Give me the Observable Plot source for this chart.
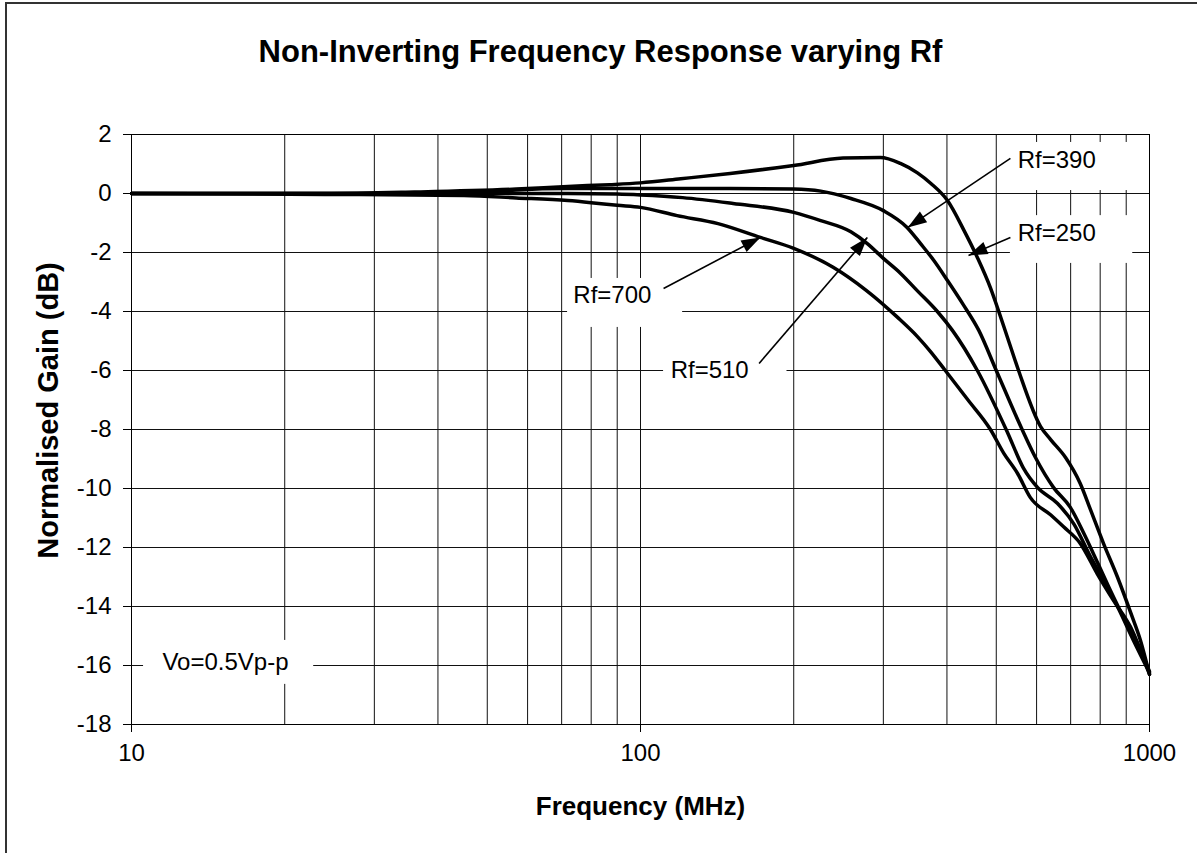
<!DOCTYPE html>
<html><head><meta charset="utf-8">
<script src="https://cdn.jsdelivr.net/npm/d3@7"></script>
<script src="https://cdn.jsdelivr.net/npm/@observablehq/plot@0.6"></script>
<style>
html,body{margin:0;padding:0;background:#fff;overflow:hidden;}
#wrap{position:relative;width:1197px;height:853px;}
#border{position:absolute;left:5px;top:2px;width:1400px;height:1000px;border-left:2px solid #333;border-top:2px solid #333;pointer-events:none;}
</style></head><body><div id="wrap"><div id="chart"></div><div id="border"></div></div>
<script>
// ---- Data ----
const freq250 = [10, 24, 36, 57, 72, 87, 100, 120, 150, 200, 250, 296, 324, 350, 372, 401, 432, 459, 487, 505, 526, 553, 611, 640, 684, 731, 765, 812, 865, 918, 960, 1000];
const gain250 = [0, 0, 0.05, 0.15, 0.24, 0.3, 0.36, 0.5, 0.68, 0.95, 1.2, 1.22, 1.02, 0.7, 0.34, -0.24, -1.25, -2.17, -3.2, -3.97, -4.88, -6.0, -7.9, -8.35, -8.95, -9.83, -10.7, -11.86, -13.0, -14.2, -15.15, -16.3];

const freq390 = [10, 36, 50, 57, 72, 100, 150, 200, 226, 259, 300, 334, 355, 377, 401, 430, 462, 500, 562, 597, 648, 699, 742, 790, 838, 889, 946, 1000];
const gain390 = [0, 0, 0.05, 0.12, 0.17, 0.17, 0.17, 0.15, 0.08, -0.17, -0.58, -1.15, -1.7, -2.27, -2.95, -3.75, -4.64, -6.0, -8.0, -8.95, -9.97, -10.64, -11.5, -12.5, -13.46, -14.37, -15.25, -16.2];

const freq510 = [10, 45, 72, 90, 100, 121, 152, 200, 226, 259, 279, 300, 324, 350, 383, 410, 459, 526, 565, 603, 659, 710, 765, 812, 865, 930, 1000];
const gain510 = [0, 0, 0, -0.02, -0.05, -0.14, -0.34, -0.64, -0.92, -1.3, -1.7, -2.2, -2.7, -3.3, -4.0, -4.64, -6.0, -8.1, -9.3, -9.97, -10.5, -11.2, -12.3, -13.1, -14.0, -15.15, -16.25];

const freq700 = [10, 24, 45, 57, 72, 80, 90, 100, 118, 142, 172, 200, 239, 278, 320, 350, 371, 397, 440, 487, 517, 551, 583, 640, 678, 731, 790, 850, 918, 1000];
const gain700 = [0, -0.03, -0.07, -0.15, -0.24, -0.31, -0.4, -0.47, -0.75, -1.02, -1.49, -1.86, -2.5, -3.29, -4.2, -4.85, -5.35, -6.0, -7.0, -8.0, -8.8, -9.5, -10.3, -10.9, -11.3, -11.86, -12.9, -13.8, -14.7, -16.3];

const seriesNames = ["Rf=250", "Rf=390", "Rf=510", "Rf=700"];
const seriesFreqs = [freq250, freq390, freq510, freq700];
const seriesGains = [gain250, gain390, gain510, gain700];

const xTickValues = [10, 100, 1000];
const xGridValues = [10, 20, 30, 40, 50, 60, 70, 80, 90, 100, 200, 300, 400, 500, 600, 700, 800, 900, 1000];
const yTickValues = [2, 0, -2, -4, -6, -8, -10, -12, -14, -16, -18];

// annotations (in data units)
const labelText = ["Rf=390", "Rf=250", "Rf=700", "Rf=510", "Vo=0.5Vp-p"];
const labelFreq = [551, 551, 73.8, 114.6, 11.5];
const labelGain = [1.12, -1.36, -3.46, -6.0, -15.9];

const boxFreq1 = [533, 533, 71.9, 111, 10.56];
const boxFreq2 = [1000, 927, 121, 194, 22.8];
const boxGain1 = [1.73, -0.75, -2.88, -5.32, -15.15];
const boxGain2 = [0.1, -2.37, -4.54, -6.68, -16.64];

const arrowFromFreq = [533, 533, 111, 171];
const arrowFromGain = [1.19, -1.49, -3.22, -5.76];
const arrowToFreq = [335, 441, 172, 279];
const arrowToGain = [-1.15, -2.1, -1.49, -1.49];

const titleText = "Non-Inverting Frequency Response varying Rf";
const xLabelText = "Frequency (MHz)";
const yLabelText = "Normalised Gain (dB)";

// ---- Build tables ----
const rows = [];
seriesNames.forEach((s, k) => seriesFreqs[k].forEach((f, i) => rows.push({series: s, f, g: seriesGains[k][i]})));
const labels = labelText.map((t, i) => ({t, f: labelFreq[i], g: labelGain[i]}));
const boxes = boxFreq1.map((v, i) => ({f1: v, f2: boxFreq2[i], g1: boxGain1[i], g2: boxGain2[i]}));

const W = 1197, H = 853, mL = 131, mR = 48, mT = 134, mB = 129;
const xDomain = [10, 1000], yDomain = [-18, 2];
const sx = Plot.scale({x: {type: "log", domain: xDomain, range: [mL, W - mR]}});
const sy = Plot.scale({y: {type: "linear", domain: yDomain, range: [H - mB, mT]}});
const arrows = arrowFromFreq.map((v, i) => {
  const x0 = sx.apply(v), y0 = sy.apply(arrowFromGain[i]);
  const x1 = sx.apply(arrowToFreq[i]), y1 = sy.apply(arrowToGain[i]);
  const ang = Math.atan2(x1 - x0, -(y1 - y0)) * 180 / Math.PI;
  return {f0: v, g0: arrowFromGain[i], f1: arrowToFreq[i], g1: arrowToGain[i], ang};
});
const arrowHead = {draw(ctx) { ctx.moveTo(0, 0); ctx.lineTo(-6.5, 19); ctx.lineTo(6.5, 19); ctx.closePath(); }};

const font = "'Liberation Sans', Arial, Helvetica, sans-serif";

const chart = Plot.plot({
  width: W, height: H,
  marginLeft: mL, marginRight: mR, marginTop: mT, marginBottom: mB,
  x: {type: "log", domain: xDomain},
  y: {type: "linear", domain: yDomain},
  style: {fontFamily: font, fontSize: "24px", color: "black", background: "transparent"},
  marks: [
    Plot.ruleX(xGridValues, {stroke: "#111", strokeWidth: 1}),
    Plot.ruleY(yTickValues, {stroke: "#111", strokeWidth: 1}),
    Plot.rect(boxes, {x1: "f1", x2: "f2", y1: "g1", y2: "g2", fill: "white"}),
    Plot.line(rows, {x: "f", y: "g", z: "series", stroke: "black", strokeWidth: 3.5, strokeLinejoin: "round", curve: "monotone-x"}),
    Plot.link(arrows, {x1: "f0", y1: "g0", x2: "f1", y2: "g1", stroke: "black", strokeWidth: 1.6}),
    Plot.dot(arrows, {x: "f1", y: "g1", symbol: arrowHead, rotate: "ang", fill: "black", stroke: "none", r: 5}),
    Plot.text(labels, {x: "f", y: "g", text: "t", textAnchor: "start", lineAnchor: "middle", fontSize: 24, fill: "black"}),
    Plot.axisX({ticks: xTickValues, tickSize: 8, tickPadding: 11, tickFormat: d => String(d), label: null, fontSize: 24}),
    Plot.axisY({ticks: yTickValues, tickSize: 8, tickPadding: 12, tickFormat: d => String(d), label: null, fontSize: 24}),
    Plot.frame({stroke: "black", strokeWidth: 1}),
    Plot.text([titleText], {frameAnchor: "top", dx: -40, dy: -82, textAnchor: "middle", lineAnchor: "middle", fontWeight: "bold", fontSize: 31}),
    Plot.text([xLabelText], {frameAnchor: "bottom", dy: 82, textAnchor: "middle", lineAnchor: "middle", fontWeight: "bold", fontSize: 26}),
    Plot.text([yLabelText], {frameAnchor: "left", dx: -83, dy: -19, rotate: -90, textAnchor: "middle", lineAnchor: "middle", fontWeight: "bold", fontSize: 29})
  ]
});
document.getElementById("chart").appendChild(chart);
</script></body></html>
